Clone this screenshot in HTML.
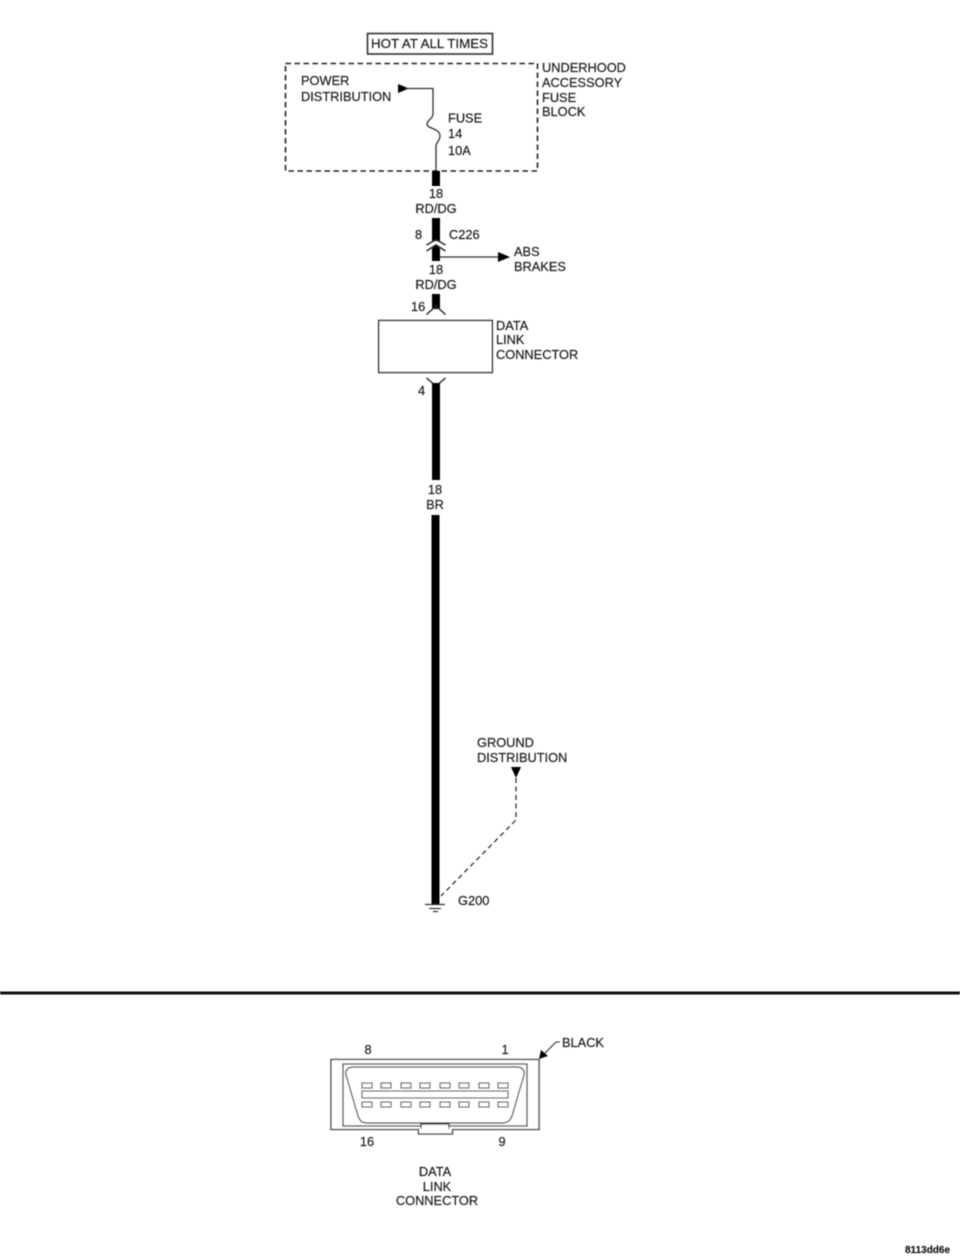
<!DOCTYPE html>
<html><head><meta charset="utf-8"><style>
html,body{margin:0;padding:0;background:#fff;width:960px;height:1258px;overflow:hidden}
svg{display:block}
text{font-family:"Liberation Sans",Arial,sans-serif;font-size:12.8px;fill:#1c1c1c;stroke:#1c1c1c;stroke-width:0.2px}
.c{text-anchor:middle}
</style></head><body>
<svg width="960" height="1258" viewBox="0 0 960 1258" xmlns="http://www.w3.org/2000/svg">
<defs><filter id="b" x="-5%" y="-5%" width="110%" height="110%"><feGaussianBlur stdDeviation="0.45"/></filter></defs>
<g filter="url(#b)">
<rect x="367.5" y="33.5" width="125" height="20.5" fill="none" stroke="#333" stroke-width="1.6"/>
<text x="371" y="48" textLength="117" lengthAdjust="spacingAndGlyphs">HOT AT ALL TIMES</text>
<rect x="285.5" y="63.5" width="252" height="107.5" fill="none" stroke="#222" stroke-width="1.6" stroke-dasharray="5.5 3.5"/>
<text x="301" y="85">POWER</text><text x="301" y="101">DISTRIBUTION</text>
<text x="542" y="72">UNDERHOOD</text><text x="542" y="87">ACCESSORY</text><text x="542" y="102">FUSE</text><text x="542" y="116">BLOCK</text>
<polygon points="398,84 398,93 409,88.5" fill="#000"/>
<path d="M405 88.5H433V114C433 119 427 120 427 124C427 129 440 128 440 136C440 141 436 142 436 146V171" fill="none" stroke="#333" stroke-width="1.3"/>
<text x="448" y="122.500">FUSE</text><text x="448" y="138">14</text><text x="448" y="155">10A</text>

<rect x="432" y="171" width="8" height="15" fill="#000"/>
<text class="c" x="436" y="198">18</text><text class="c" x="436" y="213">RD/DG</text>
<rect x="432" y="218" width="8" height="23" fill="#000"/>
<path d="M426.500 245L436 239.500L445.500 245" fill="none" stroke="#222" stroke-width="1.4"/>
<path d="M426.500 251L436 245L445.500 251" fill="none" stroke="#222" stroke-width="1.4"/>
<rect x="432" y="248" width="8" height="13" fill="#000"/>
<polygon points="432,249 436,245 440,249" fill="#000"/>
<text x="415" y="239">8</text><text x="449" y="239">C226</text>
<path d="M440 257H500" fill="none" stroke="#333" stroke-width="1.3"/>
<polygon points="498,252 498,262 510,257" fill="#000"/>
<text x="514" y="256">ABS</text><text x="514" y="271">BRAKES</text>
<text class="c" x="436" y="274">18</text><text class="c" x="436" y="289">RD/DG</text>
<rect x="432" y="294" width="8" height="15" fill="#000"/>
<path d="M426.500 314.500L436 306L445.500 314.500" fill="none" stroke="#222" stroke-width="1.4"/>
<text x="411" y="311">16</text>
<rect x="378.700" y="320.500" width="113.600" height="52" fill="#fff" stroke="#222" stroke-width="1.4"/>
<text x="496" y="330">DATA</text><text x="496" y="344">LINK</text><text x="496" y="359">CONNECTOR</text>
<path d="M426.500 378L436 386L445.500 378" fill="none" stroke="#222" stroke-width="1.4"/>
<rect x="432" y="383" width="8" height="97" fill="#000"/>
<text x="418" y="395">4</text>
<text class="c" x="435" y="494">18</text><text class="c" x="435" y="509">BR</text>
<rect x="431.500" y="515" width="8" height="389" fill="#000"/>
<path d="M425 904.500H445" stroke="#333" stroke-width="1.2"/>
<path d="M429 908.500H441" stroke="#333" stroke-width="1.2"/>
<path d="M433 911.500H438" stroke="#333" stroke-width="1.2"/>
<text x="458" y="905">G200</text>
<text x="477" y="747">GROUND</text><text x="477" y="762">DISTRIBUTION</text>
<polygon points="511,767 521,767 516,778" fill="#000"/>
<path d="M516 778V820L441 896" fill="none" stroke="#333" stroke-width="1.3" stroke-dasharray="5 3.5"/>

<rect x="0" y="991.500" width="960" height="3" fill="#111"/>

<text class="c" x="368" y="1054">8</text><text class="c" x="505" y="1054">1</text>
<text x="562" y="1047">BLACK</text>
<path d="M560 1042H556L543 1055" fill="none" stroke="#333" stroke-width="1.1"/>
<polygon points="539,1059 541,1050 548,1056" fill="#000"/>
<path d="M331 1059.500H539V1129.500H452.500V1134H418.500V1129.500H331Z" fill="#fff" stroke="#333" stroke-width="1.3"/>
<path d="M343 1064H527V1126H449V1124H421V1126H343Z" fill="none" stroke="#333" stroke-width="1.3"/>
<path d="M421 1124V1129M449 1124V1129" stroke="#333" stroke-width="1.100"/>
<path d="M353 1067H517C522 1067 525 1070 524 1075L512 1116C510 1121 507 1123 503 1123H367C362 1123 360 1121 358 1116L346 1075C345 1070 348 1067 353 1067Z" fill="none" stroke="#333" stroke-width="1.2"/>
<g fill="#fff" stroke="#333" stroke-width="1.100">
<rect x="362" y="1083" width="10" height="5"/><rect x="381" y="1083" width="10" height="5"/><rect x="401" y="1083" width="10" height="5"/><rect x="420" y="1083" width="10" height="5"/><rect x="440" y="1083" width="10" height="5"/><rect x="459" y="1083" width="10" height="5"/><rect x="479" y="1083" width="10" height="5"/><rect x="498" y="1083" width="10" height="5"/>
<rect x="362" y="1091" width="146" height="7"/>
<rect x="362" y="1102" width="10" height="5"/><rect x="381" y="1102" width="10" height="5"/><rect x="401" y="1102" width="10" height="5"/><rect x="420" y="1102" width="10" height="5"/><rect x="440" y="1102" width="10" height="5"/><rect x="459" y="1102" width="10" height="5"/><rect x="479" y="1102" width="10" height="5"/><rect x="498" y="1102" width="10" height="5"/>
</g>
<text class="c" x="367" y="1146">16</text><text class="c" x="502" y="1146">9</text>
<text class="c" x="435" y="1176">DATA</text><text class="c" x="437" y="1191">LINK</text><text class="c" x="437" y="1205">CONNECTOR</text>
<text x="905" y="1253" style="font-size:10px;font-weight:bold">8113dd6e</text>
</g>
</svg>
</body></html>
